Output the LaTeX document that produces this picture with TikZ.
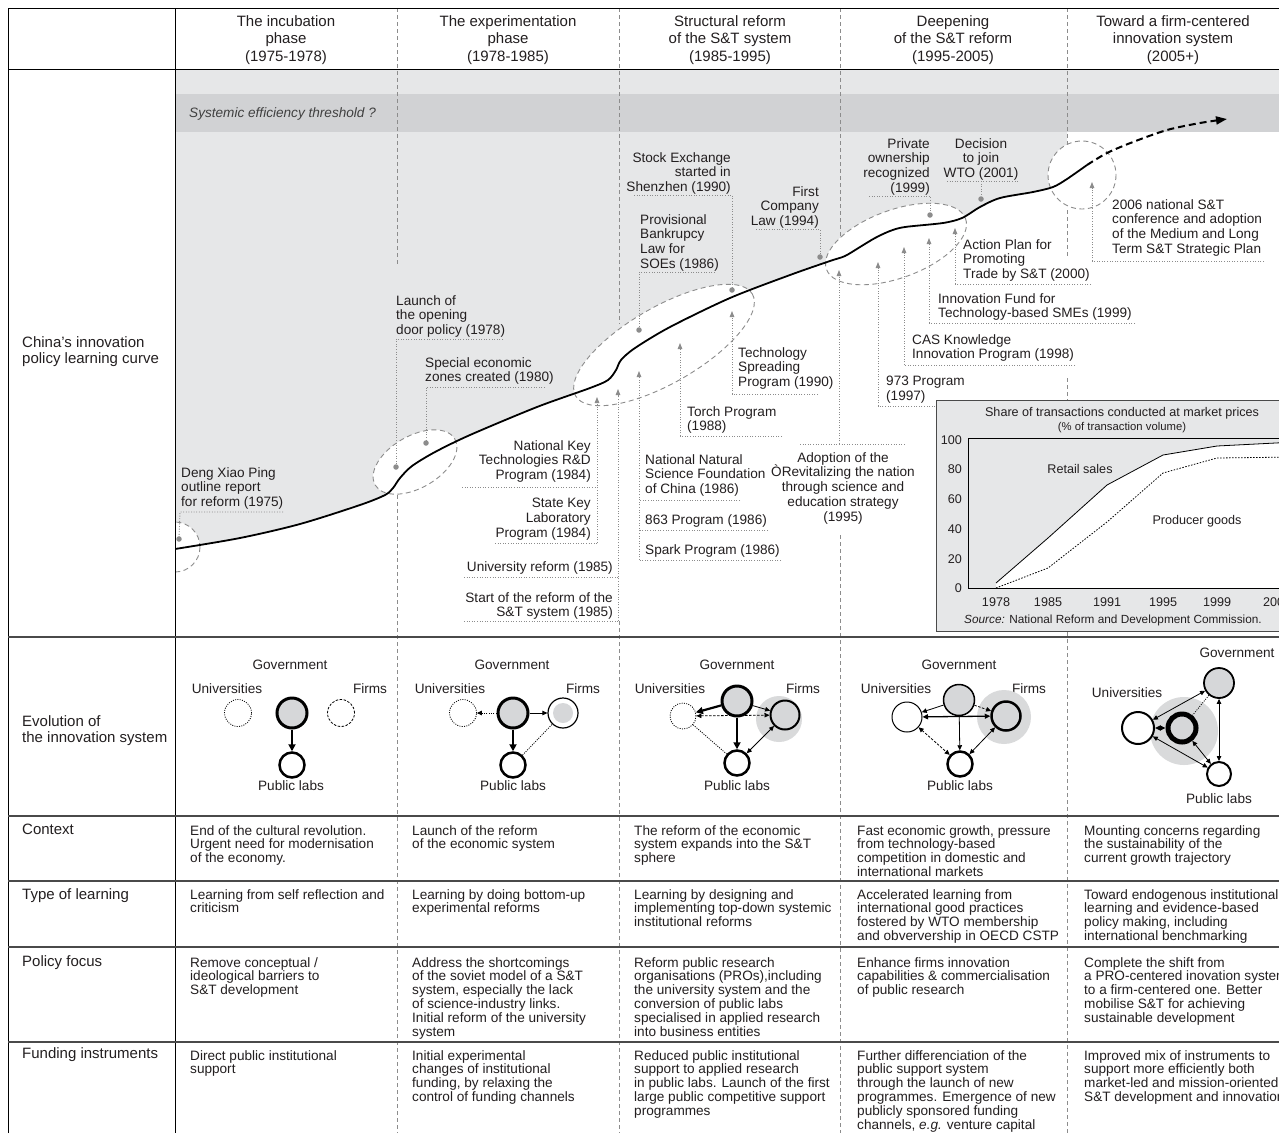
\documentclass[tikz,border=0pt]{standalone}
\usepackage{fontspec}
\setmainfont{Liberation Sans}
\usetikzlibrary{arrows.meta}
\definecolor{lgray}{HTML}{E6E7E8}
\definecolor{bgray}{HTML}{D1D2D4}
\definecolor{cgray}{HTML}{D6D7D9}
\definecolor{hgray}{HTML}{D9DADB}
\definecolor{ldc}{HTML}{8C8C8C}
\definecolor{txt}{HTML}{231F20}
\definecolor{rulec}{HTML}{4A4A4A}
\newcommand\fLab{\fontsize{13.6}{14.8}\selectfont}
\newcommand\fHead{\fontsize{15}{17.5}\selectfont}
\newcommand\fRow{\fontsize{15}{16.5}\selectfont}
\newcommand\fBody{\fontsize{13.6}{13.9}\selectfont}
\newcommand\fChart{\fontsize{12.6}{14}\selectfont}
\newcommand\fSmall{\fontsize{11.3}{13}\selectfont}
\begin{document}
\begin{tikzpicture}[x=1pt,y=-1pt,
  lbl/.style={inner sep=0pt,font=\fLab,text=txt},
  hdr/.style={inner sep=0pt,font=\fHead,text=txt,align=center,anchor=north},
  rowl/.style={inner sep=0pt,font=\fRow,text=txt,align=left,anchor=north west},
  bodytx/.style={inner sep=0pt,font=\fBody,text=txt,align=left,anchor=north west},
  sepl/.style={draw=ldc,line width=0.8pt,dash pattern=on 4pt off 3pt},
  lead/.style={draw=ldc,line width=0.9pt,dash pattern=on 1pt off 1.6pt},
  leadarr/.style={lead,-{Triangle[length=6pt,width=4.5pt]}},
  dotc/.style={circle,fill=ldc,inner sep=0pt,minimum size=5.5pt},
  hl/.style={draw=ldc,fill=white,line width=0.9pt,dash pattern=on 5pt off 3.5pt},
  cir/.style={circle,inner sep=0pt,draw=black},
  halo/.style={circle,inner sep=0pt,fill=hgray},
  thk/.style={line width=2.2pt,-{Triangle[length=7pt,width=7pt]}},
  thn/.style={line width=0.8pt,-{Triangle[length=5pt,width=4.5pt]}},
  thnb/.style={line width=0.8pt,{Triangle[length=5pt,width=4.5pt]}-{Triangle[length=5pt,width=4.5pt]}},
  medb/.style={line width=1.3pt,{Triangle[length=5.5pt,width=5pt]}-{Triangle[length=5.5pt,width=5pt]}},
  dsh/.style={dash pattern=on 2.5pt off 1.5pt},
  dtt/.style={dash pattern=on 1pt off 1.3pt},
  chtx/.style={inner sep=0pt,font=\fChart,text=txt}
]
\useasboundingbox (0,0) rectangle (1279,1133);
\fill[white] (0,0) rectangle (1279,1133);

% ---------- bands and gray area above the curve
\fill[lgray] (175,69) rectangle (1295,94);
\fill[bgray] (175,94) rectangle (1295,132);
\fill[lgray] plot[smooth,tension=0.5] coordinates {(175,549) (240,538) (300,524) (360,505) (385,495) (393,488) (400,478) (412,466) (435,452) (470,435) (537,407) (590,388) (608,380) (616,370) (621,360) (635,348) (670,327) (730,298) (790,275) (830,261) (845,256) (860,247) (875,238) (890,231) (905,227) (943,223) (962,218) (980,207) (1000,198) (1033,192) (1053,187) (1067,179)} -- (1067,132) -- (175,132) -- cycle;

\node[lbl,anchor=west,font=\fLab\itshape,text=black!75] (thr) at (189,114) {Systemic efficiency threshold ?};

% ---------- column separators
\draw[sepl] (397,8) -- (397,265);
\draw[sepl] (397,495) -- (397,1133);
\draw[sepl] (619,8) -- (619,324);
\draw[sepl] (619,621) -- (619,1133);
\draw[sepl] (840,8) -- (840,240);
\draw[sepl] (840,535) -- (840,1133);
\draw[sepl] (1067,8) -- (1067,145);
\draw[sepl] (1067,210) -- (1067,258);
\draw[sepl] (1067,378) -- (1067,400);
\draw[sepl] (1067,632) -- (1067,1133);

% ---------- highlighted periods and the learning curve
\begin{scope}
\clip (175,69) rectangle (1295,636);
\draw[hl] (175,547) circle[radius=25];
\draw[hl,rotate around={30:(415,462)}] (415,462) ellipse[x radius=46,y radius=26];
\draw[hl,rotate around={30:(664,345)}] (664,345) ellipse[x radius=102,y radius=38];
\draw[hl,rotate around={20:(896,244)}] (896,244) ellipse[x radius=74,y radius=34];
\draw[hl] (1082,175) circle[radius=34];
\draw[line width=1.8pt] plot[smooth,tension=0.5] coordinates {(175,549) (240,538) (300,524) (360,505) (385,495) (393,488) (400,478) (412,466) (435,452) (470,435) (537,407) (590,388) (608,380) (616,370) (621,360) (635,348) (670,327) (730,298) (790,275) (830,261) (845,256) (860,247) (875,238) (890,231) (905,227) (943,223) (962,218) (980,207) (1000,198) (1033,192) (1053,187) (1067,179) (1087,165)};
\draw[line width=2pt,dash pattern=on 7pt off 4pt,-{Triangle[length=11pt,width=8pt]}] plot[smooth,tension=0.5] coordinates {(1087,165) (1107,153) (1133,142) (1167,130) (1200,123) (1227,119)};
\end{scope}

% ---------- leaders
\node[dotc] (dDeng) at (179,539) {};
\node[dotc] (dLaunch) at (396,467) {};
\node[dotc] (dSez) at (426,443) {};
\node[dotc] (dBank) at (639,330) {};
\node[dotc] (dStock) at (732,290) {};
\node[dotc] (dComp) at (820,257) {};
\node[dotc] (dPriv) at (930,215) {};
\node[dotc] (dWto) at (981,199) {};

\coordinate (a1) at (283,512); \coordinate (a2) at (180,512);
\draw[lead] (a1) -- (a2) -- (dDeng.center);
\coordinate (b1) at (503,339); \coordinate (b2) at (396,339);
\draw[lead] (b1) -- (b2) -- (dLaunch.center);
\coordinate (c1) at (545,387); \coordinate (c2) at (426,387);
\draw[lead] (c1) -- (c2) -- (dSez.center);
\coordinate (e1) at (634,195); \coordinate (e2) at (732,195);
\draw[lead] (e1) -- (e2) -- (dStock.center);
\coordinate (g1a) at (715,272); \coordinate (g2a) at (639,272);
\draw[lead] (g1a) -- (g2a) -- (dBank.center);
\coordinate (h1) at (756,229); \coordinate (h2) at (820,229);
\draw[lead] (h1) -- (h2) -- (dComp.center);
\coordinate (i1) at (869,196); \coordinate (i2) at (930,196);
\draw[lead] (i1) -- (i2) -- (dPriv.center);
\coordinate (j1) at (947,181); \coordinate (j2) at (1018,181); \coordinate (j3) at (981,181);
\draw[lead] (j1) -- (j2);
\draw[lead] (j3) -- (dWto.center);

% arrows from below
\coordinate (k1) at (462,487); \coordinate (k2) at (597,487);
\coordinate (k3) at (495,543); \coordinate (k4) at (597,543); \coordinate (kT) at (597,397);
\draw[lead] (k1) -- (k2); \draw[lead] (k3) -- (k4); \draw[leadarr] (k4) -- (kT);
\coordinate (m1) at (464,577); \coordinate (m2) at (618,577);
\coordinate (m3) at (464,621); \coordinate (m4) at (618,621); \coordinate (mT) at (618,389);
\draw[lead] (m1) -- (m2); \draw[lead] (m3) -- (m4); \draw[leadarr] (m4) -- (mT);
\coordinate (n1) at (740,500); \coordinate (n2) at (639,500);
\coordinate (n3) at (768,530); \coordinate (n4) at (639,530);
\coordinate (n5) at (781,560); \coordinate (n6) at (639,560); \coordinate (nT) at (639,371);
\draw[lead] (n1) -- (n2); \draw[lead] (n3) -- (n4); \draw[lead] (n5) -- (n6); \draw[leadarr] (n6) -- (nT);
\coordinate (o1) at (782,436); \coordinate (o2) at (680,436); \coordinate (oT) at (680,343);
\draw[lead] (o1) -- (o2); \draw[leadarr] (o2) -- (oT);
\coordinate (p1) at (818,394); \coordinate (p2) at (732,394); \coordinate (pT) at (732,311);
\draw[lead] (p1) -- (p2); \draw[leadarr] (p2) -- (pT);
\coordinate (q1) at (800,444); \coordinate (q2) at (906,444); \coordinate (q3) at (839,444); \coordinate (qT) at (839,270);
\draw[lead] (q1) -- (q2); \draw[leadarr] (q3) -- (qT);
\coordinate (r1) at (938,406); \coordinate (r2) at (878,406); \coordinate (rT) at (878,262);
\draw[lead] (r1) -- (r2); \draw[leadarr] (r2) -- (rT);
\coordinate (s1) at (1075,365); \coordinate (s2) at (904,365); \coordinate (sT) at (904,247);
\draw[lead] (s1) -- (s2); \draw[leadarr] (s2) -- (sT);
\coordinate (t1) at (1135,323); \coordinate (t2) at (929,323); \coordinate (tT) at (929,238);
\draw[lead] (t1) -- (t2); \draw[leadarr] (t2) -- (tT);
\coordinate (u1a) at (1091,284); \coordinate (u2a) at (955,284); \coordinate (uT) at (955,228);
\draw[lead] (u1a) -- (u2a); \draw[leadarr] (u2a) -- (uT);
\coordinate (v1) at (1264,261); \coordinate (v2) at (1092,261); \coordinate (vT) at (1092,182);
\draw[lead] (v1) -- (v2); \draw[leadarr] (v2) -- (vT);

% ---------- curve labels
\node[lbl,anchor=north west,align=left] (nDeng) at (181,467) {Deng Xiao Ping\\outline report\\for reform (1975)};
\node[lbl,anchor=north west,align=left] (nLaunch) at (396,295) {Launch of\\the opening\\door policy (1978)};
\node[lbl,anchor=north west,align=left] (nSez) at (425,357) {Special economic\\zones created (1980)};
\node[lbl,anchor=north east,align=right] (nNkt) at (591,440) {National Key\\Technologies R\&D\\Program (1984)};
\node[lbl,anchor=north east,align=right] (nSkl) at (591,498) {State Key\\Laboratory\\Program (1984)};
\node[lbl,anchor=north east,align=right] (nUniv) at (613,561) {University reform (1985)};
\node[lbl,anchor=north east,align=right] (nStart) at (613,592) {Start of the reform of the\\S\&T system (1985)};
\node[lbl,anchor=north east,align=right] (nStock) at (731,152) {Stock Exchange\\started in\\Shenzhen (1990)};
\node[lbl,anchor=north west,align=left] (nBank) at (640,214) {Provisional\\Bankrupcy\\Law for\\SOEs (1986)};
\node[lbl,anchor=north east,align=right] (nComp) at (819,186) {First\\Company\\Law (1994)};
\node[lbl,anchor=north west,align=left] (nTech) at (738,347) {Technology\\Spreading\\Program (1990)};
\node[lbl,anchor=north west,align=left] (nTorch) at (687,406) {Torch Program\\(1988)};
\node[lbl,anchor=north west,align=left] (nNnsf) at (645,454) {National Natural\\Science Foundation\\of China (1986)};
\node[lbl,anchor=north west] (n863) at (645,514) {863 Program (1986)};
\node[lbl,anchor=north west] (nSpark) at (645,544) {Spark Program (1986)};
\node[lbl,anchor=north,align=center] (nAdopt) at (843,452) {Adoption of the\\ÒRevitalizing the nation\\through science and\\education strategy\\(1995)};
\node[lbl,anchor=north east,align=right] (nPriv) at (930,138) {Private\\ownership\\recognized\\(1999)};
\node[lbl,anchor=north,align=center] (nWto) at (981,138) {Decision\\to join\\WTO (2001)};
\node[lbl,anchor=north west,align=left] (nAct) at (963,239) {Action Plan for\\Promoting\\Trade by S\&T (2000)};
\node[lbl,anchor=north west,align=left] (nIf) at (938,293) {Innovation Fund for\\Technology-based SMEs (1999)};
\node[lbl,anchor=north west,align=left] (nCas) at (912,334) {CAS Knowledge\\Innovation Program (1998)};
\node[lbl,anchor=north west,align=left] (n973) at (886,376) {973 Program\\(1997)};
\node[lbl,anchor=north west,align=left] (n2006) at (1112,199) {2006 national S\&T\\conference and adoption\\of the Medium and Long\\Term S\&T Strategic Plan};

% ---------- inset chart
\draw[draw=rulec,fill=lgray,line width=0.9pt] (936,400) rectangle (1295,631);
\fill[white] (996,583) -- (1048,538) -- (1107,485) -- (1163,455) -- (1217,446) -- (1295,442) -- (1295,588) -- (996,588) -- cycle;
\draw[line width=0.8pt] (996,583) -- (1048,538) -- (1107,485) -- (1163,455) -- (1217,446) -- (1295,442);
\draw[line width=0.8pt,dash pattern=on 1.5pt off 1.5pt] (996,588) -- (1048,568) -- (1107,522) -- (1163,473) -- (1217,458) -- (1295,457);
\draw[line width=0.8pt] (1295,438) -- (968,438) -- (968,588) -- (1295,588);
\node[chtx] (cT1) at (1122,413) {Share of transactions conducted at market prices};
\node[chtx,font=\fSmall] (cT2) at (1122,428) {(\% of transaction volume)};
\node[chtx,anchor=east] (y100) at (962,440) {100};
\node[chtx,anchor=east] (y80) at (962,469) {80};
\node[chtx,anchor=east] (y60) at (962,499) {60};
\node[chtx,anchor=east] (y40) at (962,529) {40};
\node[chtx,anchor=east] (y20) at (962,559) {20};
\node[chtx,anchor=east] (y0) at (962,588) {0};
\node[chtx] (x78) at (996,602) {1978};
\node[chtx] (x85) at (1048,602) {1985};
\node[chtx] (x91) at (1107,602) {1991};
\node[chtx] (x95) at (1163,602) {1995};
\node[chtx] (x99) at (1217,602) {1999};
\node[chtx] (x03) at (1277,602) {2003};
\node[chtx] (cRet) at (1080,469) {Retail sales};
\node[chtx] (cPro) at (1197,521) {Producer goods};
\node[chtx,font=\fontsize{11.8}{13}\selectfont] (cSrc) at (1113,620) {\textit{Source:} National Reform and Development Commission.};

% ---------- table frame
\draw[line width=1pt] (8,1133) -- (8,8) -- (1279,8);
\draw[line width=1pt] (8,69) -- (1279,69);
\draw[line width=1pt] (175,8) -- (175,1133);
\draw[rulec,line width=1.3pt] (8,637) -- (1279,637);
\draw[rulec,line width=1.3pt] (8,816) -- (1279,816);
\draw[rulec,line width=1.3pt] (8,881) -- (1279,881);
\draw[rulec,line width=1.3pt] (8,947) -- (1279,947);
\draw[rulec,line width=1.3pt] (8,1042) -- (1279,1042);

% ---------- header
\node[hdr] (h1) at (286,15) {The incubation\\phase\\(1975-1978)};
\node[hdr] (h2) at (508,15) {The experimentation\\phase\\(1978-1985)};
\node[hdr] (h3) at (730,15) {Structural reform\\of the S\&T system\\(1985-1995)};
\node[hdr] (h4) at (953,15) {Deepening\\of the S\&T reform\\(1995-2005)};
\node[hdr] (h5) at (1173,15) {Toward a firm-centered\\innovation system\\(2005+)};

% ---------- row labels
\node[rowl] (r1) at (22,336) {China’s innovation\\policy learning curve};
\node[rowl] (r2) at (22,715) {Evolution of\\the innovation system};
\node[rowl] (r3) at (22,824) {Context};
\node[rowl] (r4) at (22,888) {Type of learning};
\node[rowl] (r5) at (22,955) {Policy focus};
\node[rowl] (r6) at (22,1047) {Funding instruments};

% ---------- body text
\node[bodytx] (c1) at (190,825) {End of the cultural revolution.\\Urgent need for modernisation\\of the economy.};
\node[bodytx] (c2) at (412,825) {Launch of the reform\\of the economic system};
\node[bodytx] (c3) at (634,825) {The reform of the economic\\system expands into the S\&T\\sphere};
\node[bodytx] (c4) at (857,825) {Fast economic growth, pressure\\from technology-based\\competition in domestic and\\international markets};
\node[bodytx] (c5) at (1084,825) {Mounting concerns regarding\\the sustainability of the\\current growth trajectory};

\node[bodytx] (t1) at (190,889) {Learning from self reflection and\\criticism};
\node[bodytx] (t2) at (412,889) {Learning by doing bottom-up\\experimental reforms};
\node[bodytx] (t3) at (634,889) {Learning by designing and\\implementing top-down systemic\\institutional reforms};
\node[bodytx] (t4) at (857,889) {Accelerated learning from\\international good practices\\fostered by WTO membership\\and obververship in OECD CSTP};
\node[bodytx] (t5) at (1084,889) {Toward endogenous institutional\\learning and evidence-based\\policy making, including\\international benchmarking};

\node[bodytx] (p1) at (190,957) {Remove conceptual /\\ideological barriers to\\S\&T development};
\node[bodytx] (p2) at (412,957) {Address the shortcomings\\of the soviet model of a S\&T\\system, especially the lack\\of science-industry links.\\Initial reform of the university\\system};
\node[bodytx] (p3) at (634,957) {Reform public research\\organisations (PROs),including\\the university system and the\\conversion of public labs\\specialised in applied research\\into business entities};
\node[bodytx] (p4) at (857,957) {Enhance firms innovation\\capabilities \& commercialisation\\of public research};
\node[bodytx] (p5) at (1084,957) {Complete the shift from\\a PRO-centered inovation system\\to a firm-centered one. Better\\mobilise S\&T for achieving\\sustainable development};

\node[bodytx] (f1) at (190,1050) {Direct public institutional\\support};
\node[bodytx] (f2) at (412,1050) {Initial experimental\\changes of institutional\\funding, by relaxing the\\control of funding channels};
\node[bodytx] (f3) at (634,1050) {Reduced public institutional\\support to applied research\\in public labs. Launch of the first\\large public competitive support\\programmes};
\node[bodytx] (f4) at (857,1050) {Further differenciation of the\\public support system\\through the launch of new\\programmes. Emergence of new\\publicly sponsored funding\\channels, \textit{e.g.} venture capital};
\node[bodytx] (f5) at (1084,1050) {Improved mix of instruments to\\support more efficiently both\\market-led and mission-oriented\\S\&T development and innovation};

% ---------- innovation system diagrams
% D1
\node[lbl] (G1t) at (290,665) {Government};
\node[lbl] (U1t) at (227,689) {Universities};
\node[lbl] (F1t) at (370,689) {Firms};
\node[lbl] (P1t) at (291,786) {Public labs};
\node[cir,line width=3pt,fill=cgray,minimum size=30pt] (g1) at (292,713) {};
\node[cir,line width=0.8pt,dtt,minimum size=27pt] (u1) at (238,713) {};
\node[cir,line width=0.8pt,dsh,minimum size=27pt] (fm1) at (341,713) {};
\node[cir,line width=2.5pt,fill=white,minimum size=25pt] (l1) at (292,765) {};
\draw[thk] (g1) -- (l1);

% D2
\node[lbl] (G2t) at (512,665) {Government};
\node[lbl] (U2t) at (450,689) {Universities};
\node[lbl] (F2t) at (583,689) {Firms};
\node[lbl] (P2t) at (513,786) {Public labs};
\node[cir,line width=3pt,fill=cgray,minimum size=30pt] (g2) at (513,713) {};
\node[cir,line width=0.8pt,dtt,minimum size=27pt] (u2) at (463,713) {};
\node[cir,line width=1.2pt,fill=white,minimum size=30pt] (fm2) at (563,713) {};
\node[circle,inner sep=0pt,fill=cgray,minimum size=20pt] (fm2i) at (563,713) {};
\node[cir,line width=2.5pt,fill=white,minimum size=25pt] (l2) at (513,765) {};
\draw[thn,dtt] (g2) -- (u2);
\draw[thn] (g2) -- (fm2);
\draw[thk] (g2) -- (l2);
\draw[line width=0.8pt,dtt] (l2) -- (fm2);

% D3
\node[lbl] (G3t) at (737,665) {Government};
\node[lbl] (U3t) at (670,689) {Universities};
\node[lbl] (F3t) at (803,689) {Firms};
\node[lbl] (P3t) at (737,786) {Public labs};
\node[halo,minimum size=46pt] (hh3) at (779,719) {};
\node[cir,line width=3pt,fill=cgray,minimum size=30pt] (g3) at (737,701) {};
\node[cir,line width=0.8pt,dtt,minimum size=26pt] (u3) at (683,716) {};
\node[cir,line width=2pt,fill=cgray,minimum size=29pt] (fm3) at (785,715) {};
\node[cir,line width=2.5pt,fill=white,minimum size=25pt] (l3) at (737,763) {};
\draw[thk] (g3) -- (u3);
\draw[thn] (g3) -- (fm3);
\draw[thk] (g3) -- (l3);
\draw[thnb,dsh] (u3) -- (fm3);
\draw[line width=0.8pt,dtt] (u3) -- (l3);
\draw[thnb] (fm3) -- (l3);

% D4
\node[lbl] (G4t) at (959,665) {Government};
\node[lbl] (U4t) at (896,689) {Universities};
\node[lbl] (F4t) at (1029,689) {Firms};
\node[lbl] (P4t) at (960,786) {Public labs};
\node[halo,minimum size=54pt] (hh4) at (1004,717) {};
\node[cir,line width=1.5pt,fill=cgray,minimum size=31pt] (g4) at (959,700) {};
\node[cir,line width=1pt,fill=white,minimum size=30pt] (u4) at (907,717) {};
\node[cir,line width=2.5pt,fill=cgray,minimum size=29pt] (fm4) at (1006,716) {};
\node[cir,line width=2.5pt,fill=white,minimum size=25pt] (l4) at (960,764) {};
\draw[thn] (g4) -- (u4);
\draw[thn,dsh] (g4) -- (fm4);
\draw[thn] (g4) -- (l4);
\draw[medb] (u4) -- (fm4);
\draw[thnb,dsh] (u4) -- (l4);
\draw[thnb] (fm4) -- (l4);

% D5
\node[lbl] (G5t) at (1237,653) {Government};
\node[lbl] (U5t) at (1127,693) {Universities};
\node[lbl] (P5t) at (1219,799) {Public labs};
\node[halo,minimum size=68pt] (hh5) at (1184,731) {};
\node[cir,line width=1.8pt,fill=cgray,minimum size=30pt] (g5) at (1219,683) {};
\node[cir,line width=2pt,fill=white,minimum size=32pt] (u5) at (1138,728) {};
\node[cir,line width=5pt,fill=cgray,minimum size=28pt] (cc5) at (1182,728) {};
\node[cir,line width=2pt,fill=white,minimum size=24pt] (l5) at (1219,774) {};
\draw[thnb] (g5) -- (u5);
\draw[thnb] (g5) -- (l5);
\draw[thnb] (u5) -- (l5);
\draw[medb] (u5) -- (cc5);
\draw[thnb] (cc5) -- (l5);
\draw[line width=0.8pt,dtt] (g5) -- (cc5);
\end{tikzpicture}
\end{document}
